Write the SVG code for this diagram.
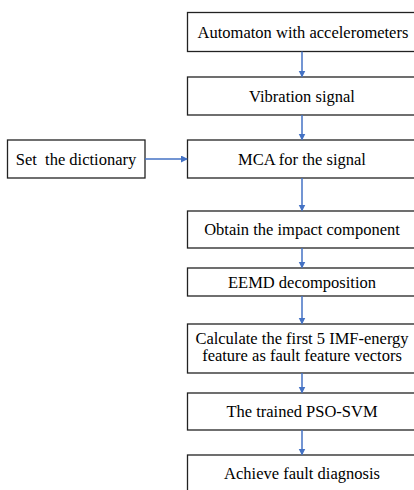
<svg xmlns="http://www.w3.org/2000/svg" width="414" height="490" viewBox="0 0 414 490">
<style>
.box{fill:#fff;stroke:#222;stroke-width:1.3}
.t{font-family:"Liberation Serif","Times New Roman",serif;font-size:16.5px;fill:#000;text-anchor:middle}
.c{stroke:#4472c4;stroke-width:1.5;fill:none;marker-end:url(#ah)}
</style>
<defs>
<marker id="ah" markerWidth="8" markerHeight="8" refX="6" refY="3.5" orient="auto" markerUnits="userSpaceOnUse">
<path d="M0,0 L7,3.5 L0,7 Z" fill="#4472c4"/>
</marker>
</defs>
<rect width="414" height="490" fill="#fff"/>
<g id="n1"><rect class="box" x="187.5" y="12.5" width="230" height="39"/><text class="t" x="303" y="37.5">Automaton with accelerometers</text></g>
<g id="n2"><rect class="box" x="187.5" y="77" width="230" height="38"/><text class="t" x="302" y="101.5">Vibration signal</text></g>
<g id="n3"><rect class="box" x="187.5" y="140" width="230" height="38"/><text class="t" x="302" y="164.5">MCA for the signal</text></g>
<g id="n0"><rect class="box" x="7.5" y="140" width="137.5" height="38"/><text class="t" x="76" y="164.5" xml:space="preserve">Set  the dictionary</text></g>
<g id="n4"><rect class="box" x="187.5" y="211" width="230" height="37"/><text class="t" x="302" y="235">Obtain the impact component</text></g>
<g id="n5"><rect class="box" x="187.5" y="268" width="230" height="28"/><text class="t" x="302" y="288">EEMD decomposition</text></g>
<g id="n6"><rect class="box" x="187.5" y="324" width="230" height="49"/><text class="t" x="302" y="343.5">Calculate the first 5 IMF-energy</text><text class="t" x="302" y="361">feature as fault feature vectors</text></g>
<g id="n7"><rect class="box" x="187.5" y="393" width="230" height="37"/><text class="t" x="302" y="416.5">The trained PSO-SVM</text></g>
<g id="n8"><rect class="box" x="187.5" y="455" width="230" height="40"/><text class="t" x="302" y="479">Achieve fault diagnosis</text></g>
<g id="connectors">
<line class="c" x1="302" y1="51.5" x2="302" y2="76.5"/>
<line class="c" x1="302" y1="115" x2="302" y2="139.5"/>
<line class="c" x1="302" y1="178" x2="302" y2="210.5"/>
<line class="c" x1="302" y1="248" x2="302" y2="267.5"/>
<line class="c" x1="302" y1="296" x2="302" y2="323.5"/>
<line class="c" x1="302" y1="373" x2="302" y2="392.5"/>
<line class="c" x1="302" y1="430" x2="302" y2="454.5"/>
<line class="c" x1="145" y1="159" x2="187" y2="159"/>
</g>
</svg>
